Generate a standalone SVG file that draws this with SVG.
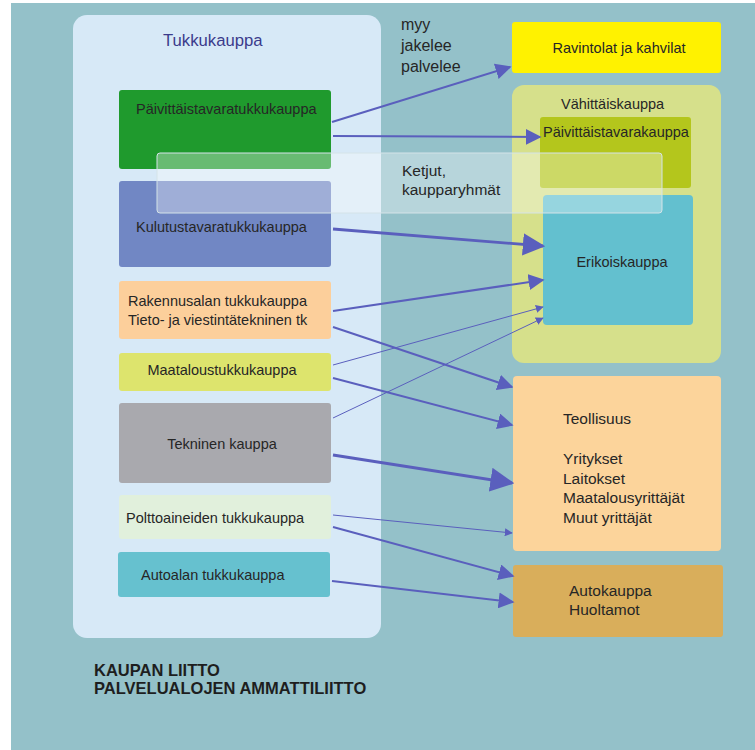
<svg xmlns="http://www.w3.org/2000/svg" width="755" height="750" viewBox="0 0 755 750">
<defs>
<style>
text{font-family:"Liberation Sans",Arial,sans-serif;font-size:14.5px;fill:#262626}
.title{font-size:16.7px;fill:#3b3b8c}
.foot{font-size:16.5px;font-weight:bold;fill:#1e1e1e}
.big{font-size:15.5px}
.c{text-anchor:middle}
.arr{stroke:#5a5fbd;fill:none;marker-end:url(#ah)}
</style>
<marker id="ah" viewBox="0 0 10 10" refX="9" refY="5" markerWidth="8" markerHeight="8" orient="auto" markerUnits="strokeWidth">
<path d="M0,0 L10,5 L0,10 z" fill="#5a5fbd"/>
</marker>
</defs>
<rect x="0" y="0" width="755" height="750" fill="#ffffff"/>
<rect x="11" y="3" width="744" height="747" fill="#94c1c9"/>

<g id="tukkukauppa">
<rect x="73" y="15" width="308" height="623" rx="14" fill="#d7e9f7"/>
<text class="title" x="163" y="46">Tukkukauppa</text>
</g>

<g id="paivittaistavaratukkukauppa">
<rect x="119" y="90" width="212" height="79" rx="3" fill="#1f9a2d"/>
<text x="136" y="114">Päivittäistavaratukkukauppa</text>
</g>

<g id="kulutustavaratukkukauppa">
<rect x="119" y="181" width="212" height="86" rx="3" fill="#7187c4"/>
<text x="136" y="232">Kulutustavaratukkukauppa</text>
</g>

<g id="rakennusalan">
<rect x="119" y="281" width="212" height="58" rx="3" fill="#fccf9b"/>
<text x="128" y="306">Rakennusalan tukkukauppa</text>
<text x="128" y="325">Tieto- ja viestintätekninen tk</text>
</g>

<g id="maatalous">
<rect x="119" y="353" width="212" height="38" rx="3" fill="#dde46d"/>
<text class="c" x="222" y="375">Maataloustukkukauppa</text>
</g>

<g id="tekninen">
<rect x="119" y="403" width="212" height="80" rx="3" fill="#a9a9ae"/>
<text class="c" x="222" y="449">Tekninen kauppa</text>
</g>

<g id="polttoaineiden">
<rect x="119" y="495" width="212" height="44" rx="3" fill="#e1f0dc"/>
<text x="126" y="523">Polttoaineiden tukkukauppa</text>
</g>

<g id="autoalan">
<rect x="118" y="552" width="212" height="45" rx="3" fill="#66c1cf"/>
<text x="141" y="580">Autoalan tukkukauppa</text>
</g>

<g id="myy-label">
<text class="big" x="401" y="30" style="font-size:16px">myy</text>
<text class="big" x="401" y="51" style="font-size:16px">jakelee</text>
<text class="big" x="401" y="72" style="font-size:16px">palvelee</text>
</g>

<g id="ravintolat">
<rect x="512" y="22" width="209" height="51" rx="3" fill="#fff200"/>
<text class="c" x="619" y="53">Ravintolat ja kahvilat</text>
</g>

<g id="vahittaiskauppa">
<rect x="512" y="85" width="209" height="278" rx="12" fill="#d6e08b"/>
<text x="561" y="109">Vähittäiskauppa</text>
</g>

<g id="paivittaistavarakauppa">
<rect x="540" y="117" width="151" height="71" rx="3" fill="#b4c61c"/>
<text x="543" y="137">Päivittäistavarakauppa</text>
</g>

<g id="erikoiskauppa">
<rect x="543" y="195" width="150" height="130" rx="4" fill="#63c0cf"/>
<text class="c" x="622" y="267">Erikoiskauppa</text>
</g>

<g id="ketjut">
<rect x="157" y="153" width="505" height="60" rx="3" fill="#ffffff" fill-opacity="0.33" stroke="#d4e3e8" stroke-width="1"/>
<text class="big" x="402" y="176">Ketjut,</text>
<text class="big" x="402" y="195">kaupparyhmät</text>
</g>

<g id="teollisuus">
<rect x="513" y="376" width="208" height="175" rx="4" fill="#fcd49b"/>
<text class="big" x="563" y="424">Teollisuus</text>
<text class="big" x="563" y="464">Yritykset</text>
<text class="big" x="563" y="484">Laitokset</text>
<text class="big" x="563" y="503">Maatalousyrittäjät</text>
<text class="big" x="563" y="523">Muut yrittäjät</text>
</g>

<g id="autokauppa">
<rect x="513" y="565" width="210" height="72" rx="3" fill="#d9ae5b"/>
<text class="big" x="569" y="596">Autokauppa</text>
<text class="big" x="569" y="615">Huoltamot</text>
</g>

<g id="footer">
<text class="foot" x="94" y="676">KAUPAN LIITTO</text>
<text class="foot" x="94" y="694">PALVELUALOJEN AMMATTILIITTO</text>
</g>

<g id="connectors">
<line class="arr" x1="332" y1="122" x2="510" y2="67" stroke-width="2"/>
<line class="arr" x1="333" y1="136" x2="540" y2="137" stroke-width="2"/>
<line class="arr" x1="333" y1="229" x2="543" y2="246" stroke-width="2.8"/>
<line class="arr" x1="333" y1="311" x2="543" y2="280" stroke-width="2"/>
<line class="arr" x1="333" y1="327" x2="512" y2="387" stroke-width="2"/>
<line class="arr" x1="333" y1="365" x2="543" y2="307" stroke-width="1"/>
<line class="arr" x1="333" y1="378" x2="512" y2="425" stroke-width="2"/>
<line class="arr" x1="333" y1="418" x2="543" y2="318" stroke-width="1"/>
<line class="arr" x1="333" y1="455" x2="512" y2="483" stroke-width="3"/>
<line class="arr" x1="333" y1="515" x2="512" y2="533" stroke-width="1"/>
<line class="arr" x1="333" y1="527" x2="513" y2="576" stroke-width="2"/>
<line class="arr" x1="332" y1="581" x2="513" y2="602" stroke-width="2"/>
</g>
</svg>
